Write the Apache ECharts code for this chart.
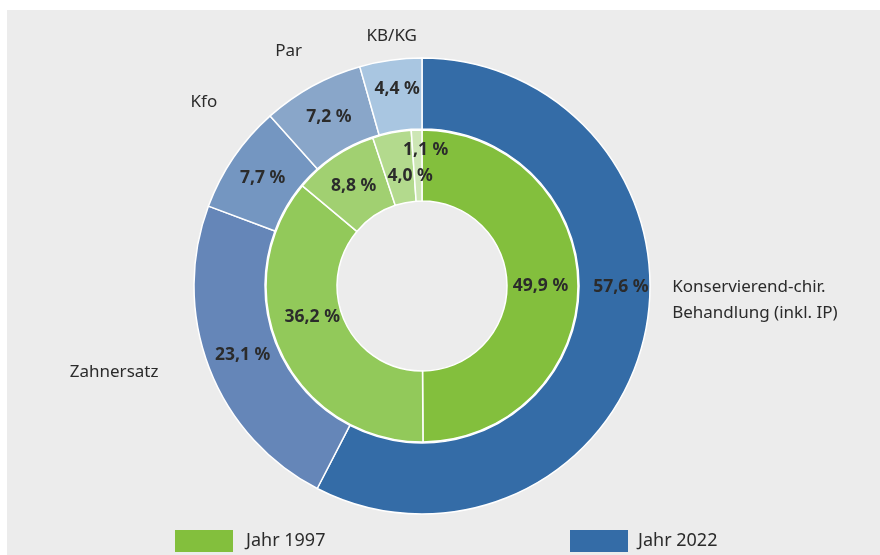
<!DOCTYPE html>
<html>
<head>
<meta charset="utf-8">
<script src="https://cdn.jsdelivr.net/npm/echarts@6/dist/echarts.min.js"></script>
<style>
  html, body { margin: 0; padding: 0; background: #fff; }
  #chart { width: 880px; height: 555px; }
</style>
</head>
<body>
<div id="chart"></div>
<script>
const categories = ['Konservierend-chir.\nBehandlung (inkl. IP)', 'Zahnersatz', 'Kfo', 'Par', 'KB/KG']
const values1997 = [49.9, 36.2, 8.8, 4.0, 1.1]
const values2022 = [57.6, 23.1, 7.7, 7.2, 4.4]
const years = ['Jahr 1997', 'Jahr 2022']

const colors1997 = ['#83bf3d', '#92c95a', '#a1d071', '#b3da8d', '#cde6b5']
const colors2022 = ['#346ca7', '#6586b8', '#7496c1', '#89a6c9', '#a9c6e1']

// small nudges, the original puts some labels off the slice middle
const nudge1997 = [[-5, 0], [2, -22], [1, 2], [12, 11], [8, -13]]
const nudge2022 = [[9, -45], [3, -1], [2, 2], [1, 2], [2, -3]]
const nudgeNames = [[-23, -51], [-1, -13], [28, -28], [18, 7], [38, 24]]

const txt = '#2b2b2b'
const font = 'Noto Sans'

const pct = p => p.value.toFixed(1).replace('.', ',') + ' %'
const toData = (vals, cols) => vals.map((v, i) => ({ name: categories[i], value: v, itemStyle: { color: cols[i] } }))
const nudger = arr => p => ({ dx: arr[p.dataIndex][0], dy: arr[p.dataIndex][1] })

const pctLabel = {
  show: true,
  position: 'inside',
  formatter: pct,
  color: txt,
  fontFamily: font,
  fontWeight: 'bold',
  fontSize: 17.5
}

const legendBase = {
  top: 530,
  padding: 0,
  icon: 'rect',
  itemWidth: 58,
  itemHeight: 22,
  selectedMode: false
}

const chart = echarts.init(document.getElementById('chart'))

chart.setOption({
  animation: false,
  backgroundColor: '#fff',
  graphic: [
    {
      type: 'rect',
      left: 7,
      top: 10,
      z: -10,
      shape: { width: 873, height: 545 },
      style: { fill: '#ececec' }
    }
  ],
  legend: [
    Object.assign({}, legendBase, {
      data: [{ name: years[0], itemStyle: { color: colors1997[0], borderWidth: 0 } }],
      left: 175,
      textStyle: { color: txt, fontFamily: font, fontSize: 18, padding: [0, 0, 0, 8] }
    }),
    Object.assign({}, legendBase, {
      data: [{ name: years[1], itemStyle: { color: colors2022[0], borderWidth: 0 } }],
      left: 570,
      textStyle: { color: txt, fontFamily: font, fontSize: 18, padding: [0, 0, 0, 5] }
    })
  ],
  series: [
    {
      // category names only, transparent ring under the 2022 ring
      name: 'names',
      type: 'pie',
      center: [422, 286],
      radius: [157, 228],
      startAngle: 90,
      silent: true,
      z: 1,
      avoidLabelOverlap: false,
      itemStyle: { color: 'rgba(0,0,0,0)', borderWidth: 0 },
      label: {
        show: true,
        position: 'outside',
        formatter: '{b}',
        color: txt,
        fontFamily: font,
        fontSize: 17,
        lineHeight: 26
      },
      labelLine: { show: false, length: 48, length2: 0 },
      labelLayout: nudger(nudgeNames),
      data: categories.map((c, i) => ({ name: c, value: values2022[i] }))
    },
    {
      name: years[1],
      type: 'pie',
      center: [422, 286],
      radius: [157, 228],
      startAngle: 90,
      silent: true,
      z: 2,
      itemStyle: { borderColor: '#fff', borderWidth: 1.5 },
      label: pctLabel,
      labelLine: { show: false },
      labelLayout: nudger(nudge2022),
      data: toData(values2022, colors2022)
    },
    {
      name: years[0],
      type: 'pie',
      center: [422, 286],
      radius: [85, 156],
      startAngle: 90,
      silent: true,
      z: 2,
      itemStyle: { borderColor: '#fff', borderWidth: 1.5 },
      label: pctLabel,
      labelLine: { show: false },
      labelLayout: nudger(nudge1997),
      data: toData(values1997, colors1997)
    }
  ]
})
</script>
</body>
</html>
